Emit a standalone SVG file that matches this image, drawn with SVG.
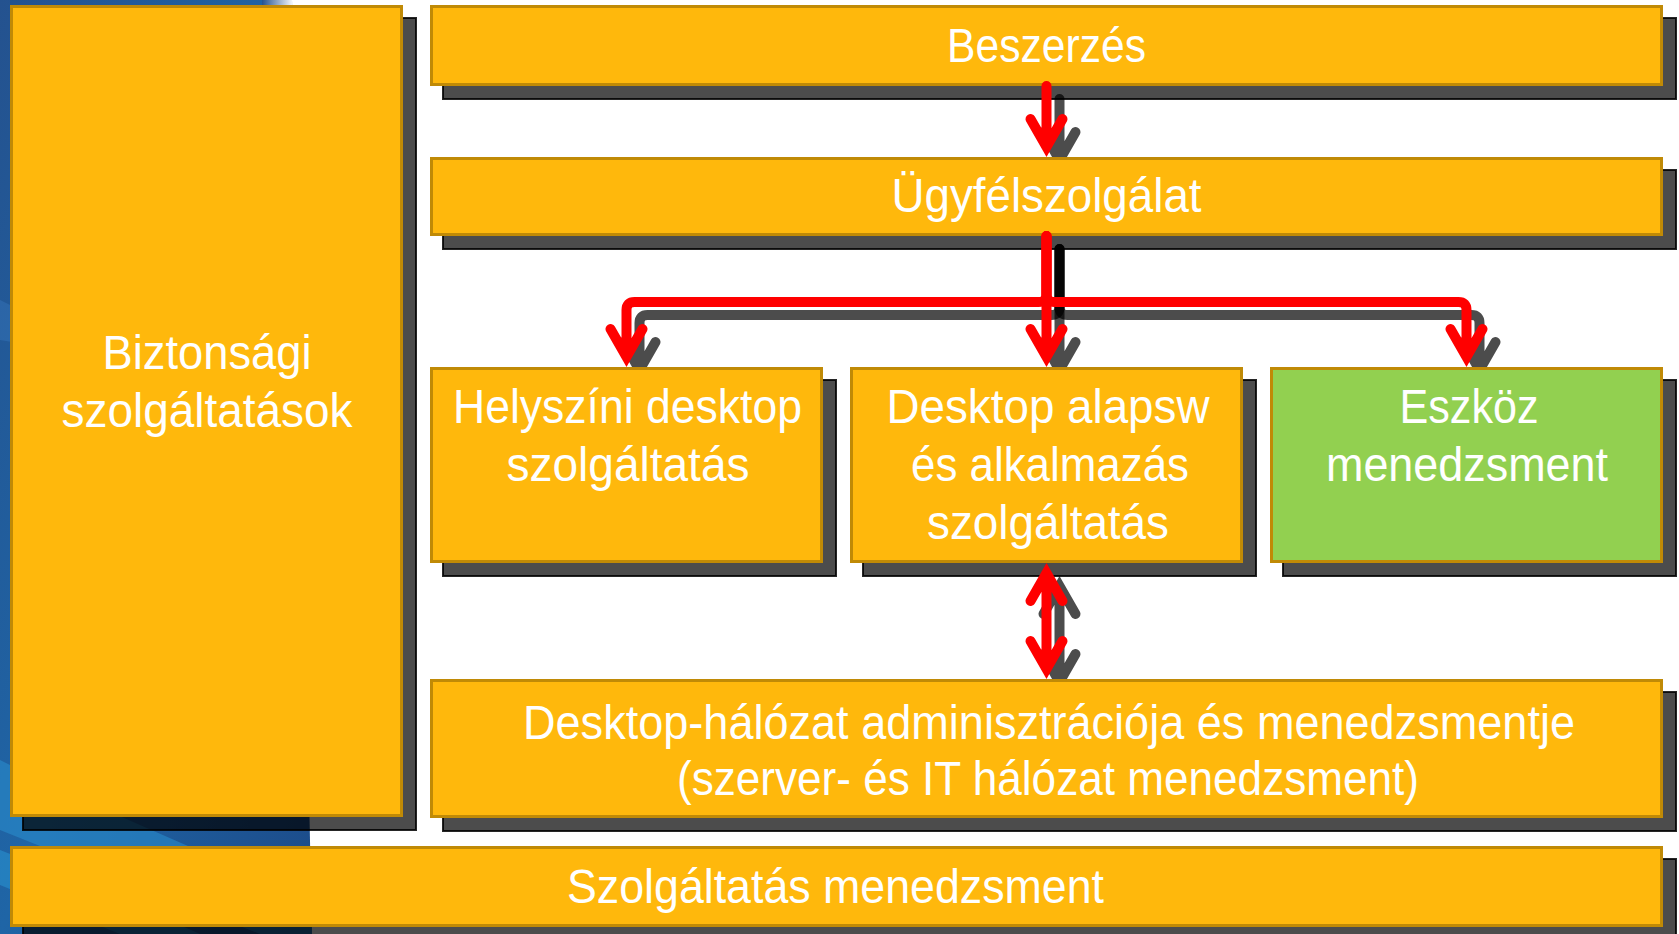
<svg xmlns="http://www.w3.org/2000/svg" width="1679" height="934" viewBox="0 0 1679 934">
<defs>
<linearGradient id="bgG" x1="0" y1="0" x2="1" y2="1">
<stop offset="0" stop-color="#24528f"/>
<stop offset="0.5" stop-color="#1f65a6"/>
<stop offset="1" stop-color="#1c4a88"/>
</linearGradient>
<linearGradient id="fadeG" x1="0" y1="0" x2="1" y2="0">
<stop offset="0" stop-color="#24528f"/>
<stop offset="1" stop-color="#ffffff"/>
</linearGradient>
<clipPath id="bgClip"><polygon points="0,0 292,0 312,934 0,934"/></clipPath>
</defs>
<style>
.box{fill:#FFB80C;stroke:#C08A06;stroke-width:3}
.green{fill:#92D050}
.shd{fill:#000;fill-opacity:0.7;stroke:#000;stroke-opacity:0.85;stroke-width:2}
.lbl{font-family:"Liberation Sans",Arial,sans-serif;font-size:48px;fill:#fff;text-anchor:middle}
.ln{fill:none;stroke:#FF0000;stroke-width:10;stroke-linecap:round;stroke-linejoin:miter}
.lns{fill:none;stroke:#000;stroke-opacity:0.7;stroke-width:10;stroke-linecap:round;stroke-linejoin:miter}
</style>
<rect x="0" y="0" width="1679" height="934" fill="#ffffff"/>
<g id="background" clip-path="url(#bgClip)">
<rect x="0" y="0" width="320" height="934" fill="url(#bgG)"/>
<rect x="262" y="0" width="32" height="20" fill="url(#fadeG)"/>
<polygon points="0,760 60,790 220,860 330,900 330,934 260,934 0,830" fill="#2a8fd0" fill-opacity="0.55"/>
<polygon points="0,850 90,885 200,934 120,934 0,885" fill="#2a9ad8" fill-opacity="0.5"/>
<polygon points="0,300 120,360 0,340" fill="#3a7ac0" fill-opacity="0.4"/>
</g>
<g id="connector-shadows" transform="translate(13,13)">
<path class="lns" d="M1046.5,86 V147 M1030.5,119 L1046.5,147 L1062.5,119"/>
<path class="lns" d="M1046.5,236 V294 Q1046.5,302 1038.5,302 H634.5 Q626.5,302 626.5,310 V357 M610.5,329 L626.5,357 L642.5,329"/>
<path class="lns" d="M1046.5,236 V357 M1030.5,329 L1046.5,357 L1062.5,329"/>
<path class="lns" d="M1046.5,236 V294 Q1046.5,302 1054.5,302 H1458.5 Q1466.5,302 1466.5,310 V357 M1450.5,329 L1466.5,357 L1482.5,329"/>
<path class="lns" d="M1046.5,573 V669 M1030.5,601 L1046.5,573 L1062.5,601 M1030.5,641 L1046.5,669 L1062.5,641"/>
</g>
<g id="shadows">
<rect class="shd" x="23" y="18" width="393" height="812"/>
<rect class="shd" x="443" y="18" width="1233" height="81"/>
<rect class="shd" x="443" y="170" width="1233" height="79"/>
<rect class="shd" x="443" y="380" width="393" height="196"/>
<rect class="shd" x="863" y="380" width="393" height="196"/>
<rect class="shd" x="1283" y="380" width="393" height="196"/>
<rect class="shd" x="443" y="692" width="1233" height="139"/>
<rect class="shd" x="23" y="859" width="1653" height="81"/>
</g>
<g id="biztonsagi">
<rect class="box" x="11.5" y="6.5" width="390" height="809"/>
<text class="lbl" x="207" y="369" textLength="209" lengthAdjust="spacingAndGlyphs">Biztonsági</text>
<text class="lbl" x="207" y="427" textLength="291" lengthAdjust="spacingAndGlyphs">szolgáltatások</text>
</g>
<g id="beszerzes">
<rect class="box" x="431.5" y="6.5" width="1230" height="78"/>
<text class="lbl" x="1046.5" y="62" textLength="199" lengthAdjust="spacingAndGlyphs">Beszerzés</text>
</g>
<g id="ugyfelszolgalat">
<rect class="box" x="431.5" y="158.5" width="1230" height="76"/>
<text class="lbl" x="1046.5" y="212" textLength="310" lengthAdjust="spacingAndGlyphs">Ügyfélszolgálat</text>
</g>
<g id="helyszini">
<rect class="box" x="431.5" y="368.5" width="390" height="193"/>
<text class="lbl" x="627.5" y="423" textLength="349" lengthAdjust="spacingAndGlyphs">Helyszíni desktop</text>
<text class="lbl" x="628" y="481" textLength="243" lengthAdjust="spacingAndGlyphs">szolgáltatás</text>
</g>
<g id="desktop-alapsw">
<rect class="box" x="851.5" y="368.5" width="390" height="193"/>
<text class="lbl" x="1048" y="423" textLength="323" lengthAdjust="spacingAndGlyphs">Desktop alapsw</text>
<text class="lbl" x="1050" y="481" textLength="278" lengthAdjust="spacingAndGlyphs">és alkalmazás</text>
<text class="lbl" x="1048" y="539" textLength="242" lengthAdjust="spacingAndGlyphs">szolgáltatás</text>
</g>
<g id="eszkoz">
<rect class="box green" x="1271.5" y="368.5" width="390" height="193"/>
<text class="lbl" x="1469" y="423" textLength="139" lengthAdjust="spacingAndGlyphs">Eszköz</text>
<text class="lbl" x="1467" y="481" textLength="282" lengthAdjust="spacingAndGlyphs">menedzsment</text>
</g>
<g id="desktop-halozat">
<rect class="box" x="431.5" y="680.5" width="1230" height="136"/>
<text class="lbl" x="1049" y="739" textLength="1052" lengthAdjust="spacingAndGlyphs">Desktop-hálózat adminisztrációja és menedzsmentje</text>
<text class="lbl" x="1048" y="795" textLength="742" lengthAdjust="spacingAndGlyphs">(szerver- és IT hálózat menedzsment)</text>
</g>
<g id="szolgaltatas-menedzsment">
<rect class="box" x="11.5" y="847.5" width="1650" height="78"/>
<text class="lbl" x="835.5" y="903" textLength="537" lengthAdjust="spacingAndGlyphs">Szolgáltatás menedzsment</text>
</g>
<g id="connectors">
<path class="ln" d="M1046.5,86 V147 M1030.5,119 L1046.5,147 L1062.5,119"/>
<path class="ln" d="M1046.5,236 V294 Q1046.5,302 1038.5,302 H634.5 Q626.5,302 626.5,310 V357 M610.5,329 L626.5,357 L642.5,329"/>
<path class="ln" d="M1046.5,236 V357 M1030.5,329 L1046.5,357 L1062.5,329"/>
<path class="ln" d="M1046.5,236 V294 Q1046.5,302 1054.5,302 H1458.5 Q1466.5,302 1466.5,310 V357 M1450.5,329 L1466.5,357 L1482.5,329"/>
<path class="ln" d="M1046.5,573 V669 M1030.5,601 L1046.5,573 L1062.5,601 M1030.5,641 L1046.5,669 L1062.5,641"/>
</g>
</svg>
